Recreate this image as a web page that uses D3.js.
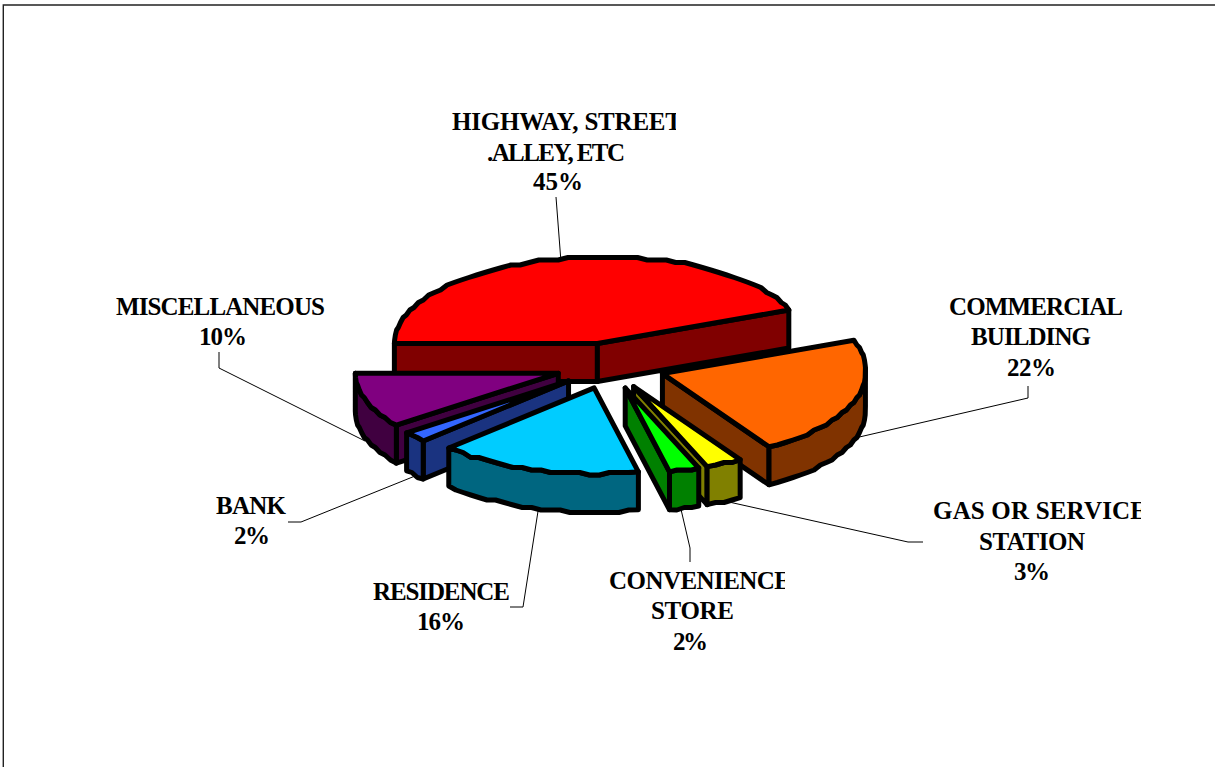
<!DOCTYPE html>
<html>
<head>
<meta charset="utf-8">
<title>Pie 3D</title>
<script src="https://cdn.jsdelivr.net/npm/d3@7/dist/d3.min.js"></script>
<style>
html, body { margin: 0; padding: 0; background: #fff; overflow: hidden; }
svg { display: block; }
text { font-family: "Liberation Serif", serif; font-weight: bold; font-size: 25px; fill: #000; }
</style>
</head>
<body>
<svg></svg>
<script>
// data, order is clockwise from the left edge of the red slice
var categories = [
    ["HIGHWAY, STREET", ".ALLEY, ETC"],
    ["COMMERCIAL", "BUILDING"],
    ["GAS OR SERVICE", "STATION"],
    ["CONVENIENCE", "STORE"],
    ["RESIDENCE"],
    ["BANK"],
    ["MISCELLANEOUS"]
];
var values = [44.6, 21.6, 2.9, 2.4, 16.2, 2.0, 10.3];

var topColors = ["#ff0000", "#ff6600", "#ffff00", "#00ff00", "#00ccff", "#3366ff", "#800080"];
var sideColors = ["#800000", "#803300", "#808000", "#008000", "#006680", "#1a3380", "#400040"];

// back to front
var drawOrder = [0, 1, 2, 3, 6, 5, 4];

// small sideways correction per slice, the original perspective is not a clean ellipse
var nudgeX = [-3, 2, 0, 0, 0, 0, 0];

// left, width and baseline of every label line, the last one is the percent
var labelLines = [
    [[452, 230, 130], [487, 138, 161], [533, 50, 190]],
    [[949, 174, 315], [971, 120, 345], [1007, 49, 376]],
    [[933, 214, 519], [979, 106, 550], [1014, 36, 580]],
    [[609, 182, 589], [651, 83, 619], [673, 35, 650]],
    [[373, 137, 600], [417, 48, 630]],
    [[216, 70, 514], [234, 36, 544]],
    [[116, 209, 315], [199, 48, 345]]
];
// text running past these x is cut, like in the original
var labelClip = [676, null, 1141, 785, null, null, null];

var leaders = [
    [[556, 197], [561, 262]],
    [[1028, 386], [1028, 398], [855, 438]],
    [[923, 542], [908, 542], [720, 500]],
    [[690, 562], [690, 548], [680, 505]],
    [[510, 607], [523, 607], [539, 505]],
    [[288, 522], [301, 522], [420, 474]],
    [[219, 352], [219, 368], [365, 441]]
];

var svgWidth = 1215, svgHeight = 767;
var rx = 203, ry = 86, depth = 38, explode = 0.266;
var centerX = 609.5, centerY = 366;
var tilt = 0.025; // back right of the disc sits a bit higher in the original

var svg = d3.select("svg")
    .attr("width", svgWidth)
    .attr("height", svgHeight);

// unit circle -> screen, the pie is a flattened disc
var x = d3.scaleLinear().domain([-1, 1]).range([centerX - rx, centerX + rx]);
var y = d3.scaleLinear().domain([-1, 1]).range([centerY - ry, centerY + ry]);

var pie = d3.pie().sort(null).startAngle(-Math.PI / 2).endAngle(Math.PI * 1.5);
var arcs = pie(values);

var line = d3.line().curve(d3.curveLinear);

// frame of the chart area
svg.append("path")
    .attr("d", "M3.3," + svgHeight + "V5H" + svgWidth)
    .attr("fill", "none")
    .attr("stroke", "#222")
    .attr("stroke-width", 1.4);

// leader lines go under the slices
svg.selectAll(".leader")
    .data(leaders)
    .enter().append("path")
    .attr("class", "leader")
    .attr("d", function(d) { return line(d); })
    .attr("fill", "none")
    .attr("stroke", "#000")
    .attr("stroke-width", 1);

// the outline of the original is stepped, keep that with a coarse grid
function snap(v) {
    return Math.round(v / 2.5) * 2.5;
}

function point(a, r, mid, drop, dx) {
    var sx = r * Math.sin(a), cy = r * Math.cos(a);
    var lift = cy > 0 ? tilt * rx * Math.max(0, sx) : 0;
    return [
        x(sx + explode * Math.sin(mid)) + dx,
        y(-cy - explode * Math.cos(mid)) + drop - lift
    ];
}

function arcPoints(a0, a1, mid, drop, dx) {
    var n = Math.max(2, Math.ceil(Math.abs(a1 - a0) / 0.05));
    return d3.range(n + 1).map(function(i) {
        var a = a0 + (a1 - a0) * i / n;
        var p = point(a, 1, mid, drop, dx);
        if (i > 0 && i < n) p = [p[0], snap(p[1])];
        return p;
    });
}

function drawSlice(i) {
    var d = arcs[i];
    var a0 = d.startAngle, a1 = d.endAngle;
    var mid = (a0 + a1) / 2;
    var dx = nudgeX[i];
    var g = svg.append("g")
        .attr("stroke", "#000")
        .attr("stroke-width", 5)
        .attr("stroke-linejoin", "round");

    var apex = point(0, 0, mid, 0, dx);
    var apexLow = point(0, 0, mid, depth, dx);

    // straight walls, only the ones turned to the viewer
    function wall(a) {
        g.append("path")
            .attr("d", line([apex, point(a, 1, mid, 0, dx), point(a, 1, mid, depth, dx), apexLow]) + "Z")
            .attr("fill", sideColors[i]);
    }
    if (Math.sin(a0) < 0) wall(a0);
    if (Math.sin(a1) > 0) wall(a1);

    // curved wall, front half of the disc only
    var from = Math.max(a0, Math.PI / 2), to = Math.min(a1, Math.PI * 1.5);
    if (to > from) {
        var upper = arcPoints(from, to, mid, 0, dx);
        var lower = arcPoints(to, from, mid, depth, dx);
        g.append("path")
            .attr("d", line(upper.concat(lower)) + "Z")
            .attr("fill", sideColors[i]);
    }

    g.append("path")
        .attr("d", line([apex].concat(arcPoints(a0, a1, mid, 0, dx))) + "Z")
        .attr("fill", topColors[i]);
}

drawOrder.forEach(drawSlice);

// labels
var percent = d3.format(".0%");

categories.forEach(function(lines, i) {
    var texts = lines.concat([percent(values[i] / 100)]);
    var g = svg.append("g");
    if (labelClip[i] !== null) {
        svg.append("clipPath")
            .attr("id", "cut" + i)
            .append("rect")
            .attr("x", 0)
            .attr("y", 0)
            .attr("width", labelClip[i])
            .attr("height", svgHeight);
        g.attr("clip-path", "url(#cut" + i + ")");
    }
    g.selectAll("text")
        .data(texts)
        .enter().append("text")
        .attr("x", function(d, j) { return labelLines[i][j][0]; })
        .attr("y", function(d, j) { return labelLines[i][j][2]; })
        .attr("textLength", function(d, j) { return labelLines[i][j][1]; })
        .attr("lengthAdjust", "spacing")
        .text(function(d) { return d; });
});
</script>
</body>
</html>
